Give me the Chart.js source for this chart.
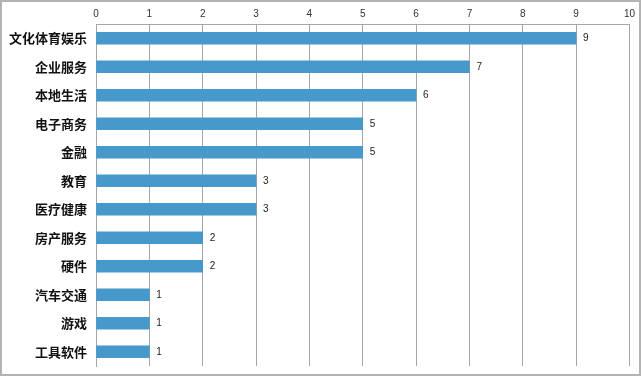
<!DOCTYPE html>
<html>
<head>
<meta charset="utf-8">
<script src="https://cdn.jsdelivr.net/npm/chart.js@4"></script>
<style>
  html, body { margin: 0; padding: 0; background: #fff; }
  #wrap {
    position: relative;
    width: 641px;
    height: 376px;
    box-sizing: border-box;
    border: 2px solid #b3b3b3;
  }
</style>
</head>
<body>
<div id="wrap"><canvas id="chart"></canvas></div>
<script>
const categories = ['文化体育娱乐', '企业服务', '本地生活', '电子商务', '金融', '教育',
    '医疗健康', '房产服务', '硬件', '汽车交通', '游戏', '工具软件'];
const counts = [9, 7, 6, 5, 5, 3, 3, 2, 2, 1, 1, 1];
const xTicks = [0, 1, 2, 3, 4, 5, 6, 7, 8, 9, 10];

// 막대 오른쪽에 값 표시
const valueLabels = {
    id: 'valueLabels',
    afterDatasetsDraw(chart) {
        const ctx = chart.ctx;
        const meta = chart.getDatasetMeta(0);
        ctx.save();
        ctx.font = '10px "Liberation Sans", Arial, sans-serif';
        ctx.fillStyle = '#222';
        ctx.textBaseline = 'middle';
        meta.data.forEach((bar, i) => {
            ctx.fillText(String(counts[i]), bar.x + 7, bar.y);
        });
        ctx.restore();
    }
};

new Chart(document.getElementById('chart'), {
    type: 'bar',
    data: {
        labels: categories,
        datasets: [{
            data: counts,
            backgroundColor: '#4799CB',
            borderWidth: 0,
            barThickness: 12
        }]
    },
    options: {
        indexAxis: 'y',
        responsive: true,
        maintainAspectRatio: false,
        animation: false,
        layout: { padding: { top: 0, right: 9, bottom: 8, left: 0 } },
        plugins: { legend: { display: false }, tooltip: { enabled: false } },
        scales: {
            x: {
                position: 'top',
                min: 0,
                max: 10,
                afterBuildTicks: (scale) => { scale.ticks = xTicks.map(v => ({ value: v })); },
                afterFit: (scale) => { scale.height = 22; },
                grid: { color: '#a6a6a6', lineWidth: 1, drawTicks: false },
                border: { color: '#a6a6a6' },
                ticks: {
                    padding: 4,
                    color: '#333',
                    font: { size: 10, family: '"Liberation Sans", Arial, sans-serif' }
                }
            },
            y: {
                afterFit: (scale) => {
                    scale.width = 94;
                    scale.paddingTop = 0;
                    scale.paddingBottom = 0;
                },
                grid: { display: false },
                border: { color: '#a6a6a6' },
                ticks: {
                    padding: 1,
                    color: '#111',
                    font: { size: 13, weight: 'bold', family: '"Noto Sans CJK SC", sans-serif' }
                }
            }
        }
    },
    plugins: [valueLabels]
});
</script>
</body>
</html>
